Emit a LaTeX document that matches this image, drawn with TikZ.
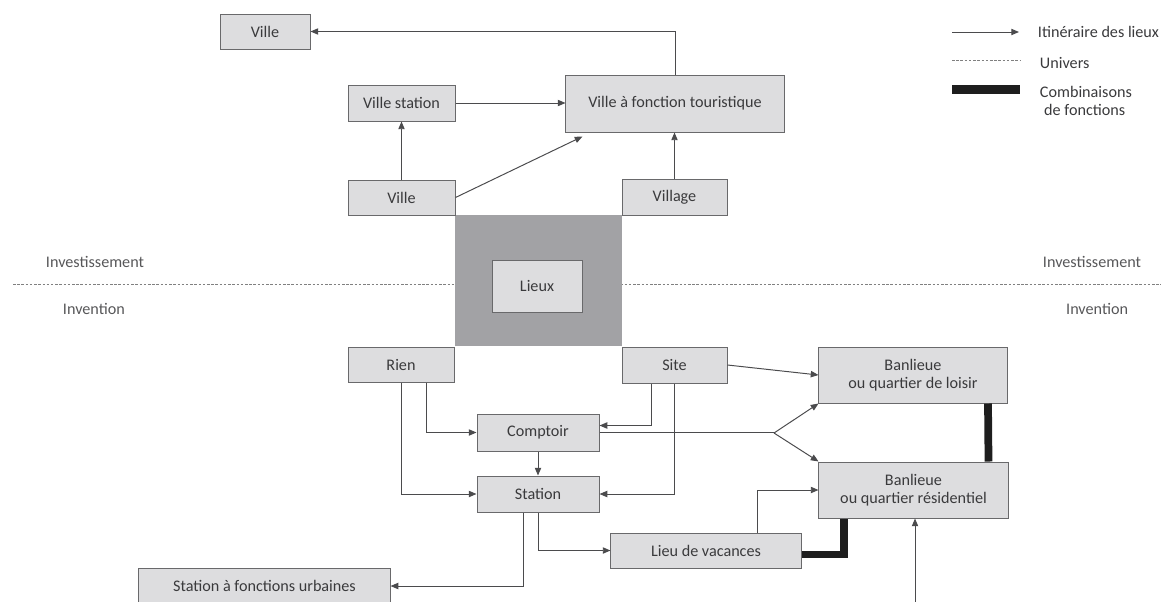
\documentclass[tikz,border=0pt]{standalone}
\usepackage{fontspec}
\setmainfont{Carlito}
\usetikzlibrary{arrows.meta}
\definecolor{boxfill}{RGB}{221,221,223}
\definecolor{boxline}{RGB}{105,105,107}
\definecolor{txt}{RGB}{58,58,60}
\definecolor{lieuxgrey}{RGB}{162,162,165}
\definecolor{linkgrey}{RGB}{75,75,77}
\definecolor{combigrey}{RGB}{30,30,30}
\begin{document}
\begin{tikzpicture}[x=0.025cm,y=-0.025cm,
  font=\fontsize{11.5}{13}\selectfont,
  box/.style={draw=boxline,fill=boxfill,text=txt,line width=0.7pt,inner sep=2pt,align=center},
  link/.style={draw=linkgrey,line width=0.7pt,-{Triangle[length=5.5pt,width=4.5pt]}},
  combi/.style={draw=combigrey,line width=5.5pt},
  univers/.style={draw=gray,line width=0.6pt,dash pattern=on 1.8pt off 1.2pt},
  side/.style={text=txt!85}]
  \useasboundingbox (0,0) rectangle (1161,601);
  \draw[univers] (13,284) -- (1161,284);
  \node[side,anchor=west] (invl) at (41,262) {Investissement};
  \node[side,anchor=east] (invr) at (1146,262) {Investissement};
  \node[side,anchor=west] (inl) at (58,309) {Invention};
  \node[side,anchor=east] (inr) at (1133,309) {Invention};

  \node[fill=lieuxgrey,minimum width=4.175cm,minimum height=3.275cm] (square) at (538.5,280.5) {};
  \node[box,minimum width=2.25cm,minimum height=1.3cm] (lieux) at (537,286) {Lieux};

  \node[box,minimum width=2.25cm,minimum height=0.875cm] (ville1) at (265,31.5) {Ville};
  \node[box,minimum width=2.675cm,minimum height=0.9cm] (villest) at (401.5,103) {Ville station};
  \node[box,minimum width=5.45cm,minimum height=1.425cm] (vaft) at (675,103.5) {Ville à fonction touristique};
  \node[box,minimum width=2.675cm,minimum height=0.875cm] (ville2) at (401.5,197.5) {Ville};
  \node[box,minimum width=2.625cm,minimum height=0.9cm] (village) at (674.5,197) {Village};

  \node[box,minimum width=2.65cm,minimum height=0.875cm] (rien) at (401,364.5) {Rien};
  \node[box,minimum width=2.625cm,minimum height=0.9cm] (site) at (674.5,365) {Site};
  \node[box,minimum width=3.05cm,minimum height=0.925cm] (comptoir) at (538,432.5) {Comptoir};
  \node[box,minimum width=3.05cm,minimum height=0.9cm] (station) at (538,494) {Station};
  \node[box,minimum width=4.7cm,minimum height=1.4cm] (loisir) at (913,375) {Banlieue\\ou quartier de loisir};
  \node[box,minimum width=4.725cm,minimum height=1.4cm] (resid) at (913.5,490) {Banlieue\\ou quartier résidentiel};
  \node[box,minimum width=4.75cm,minimum height=0.875cm] (vacances) at (706,550.5) {Lieu de vacances};
  \node[box,minimum width=6.275cm,minimum height=0.9cm] (urbaines) at (264.5,586) {Station à fonctions urbaines};

  \draw[link] (vaft.north) |- (ville1.east);
  \draw[link] (villest.east) -- (villest.east -| vaft.west);
  \draw[link] (ville2.north) -- (villest.south);
  \draw[link] (ville2.east) -- ([shift={(17,4)}]vaft.south west);
  \draw[link] (village.north) -- (village.north |- vaft.south);

  \draw[link] ([shift={(25,0)}]rien.south) |- (comptoir.west);
  \draw[link] (rien.south) |- (station.west);
  \draw[link] ([shift={(-23,0)}]site.south) |- ([shift={(0,-7)}]comptoir.east);
  \draw[link] (site.south) |- (station.east);
  \draw[link] (site.east) -- (loisir.west);
  \coordinate (split) at (774,433);
  \draw[draw=linkgrey,line width=0.7pt] (comptoir.east) -- (comptoir.east -| split) -- (split);
  \draw[link] (split) -- (loisir.south west);
  \draw[link] (split) -- (resid.north west);
  \draw[link] (comptoir.south) -- (station.north);
  \draw[link] ([shift={(-15,0)}]station.south) |- (urbaines.east);
  \draw[link] (station.south) |- (vacances.west);
  \draw[link] ([shift={(51,0)}]vacances.north) |- (resid.west);
  \coordinate (resfoot) at (915,620);
  \draw[link] (resfoot) -- (resfoot |- resid.south);

  \draw[combi] ([shift={(0,4)}]vacances.east) -| ([shift={(-69.5,0)}]resid.south);
  \draw[combi] ([shift={(75,0)}]loisir.south) -- ([shift={(75,0)}]resid.north);

  \draw[link] (952,32) -- (1019,32);
  \node[anchor=west,text=txt] (legarrow) at (1033,32) {Itinéraire des lieux};
  \draw[univers] (952,60) -- (1020,60);
  \node[anchor=west,text=txt] (leguniv) at (1035,63) {Univers};
  \draw[combi,line width=6.4pt] (952,89) -- (1020,89);
  \node[anchor=west,align=left,text=txt] (legcombi) at (1035,101) {Combinaisons\\\hspace{3pt}de fonctions};
\end{tikzpicture}
\end{document}
